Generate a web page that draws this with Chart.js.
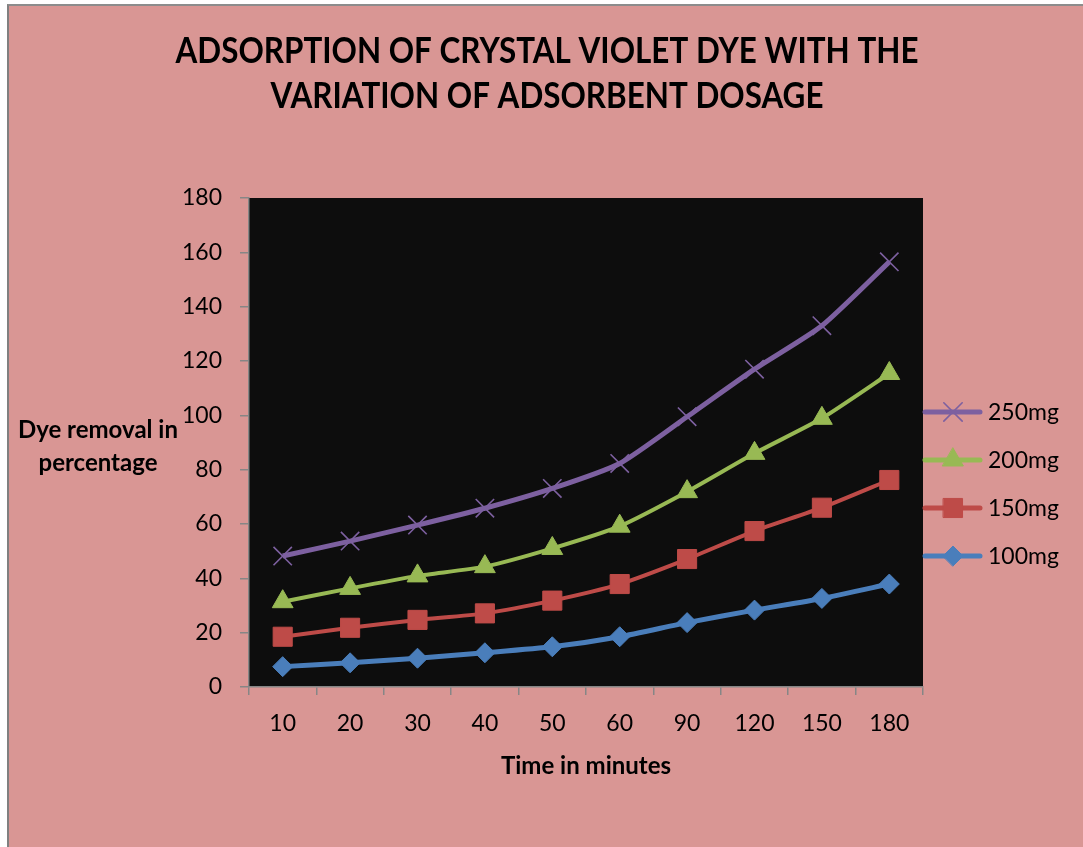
<!DOCTYPE html>
<html>
<head>
<meta charset="utf-8">
<script src="https://cdn.jsdelivr.net/npm/chart.js@4"></script>
<style>
  body { margin: 0; background: #ffffff; }
  #frame {
    position: absolute; left: 7px; top: 4px;
    width: 1076px; height: 843px;
    border-left: 2px solid #808080; border-top: 2px solid #8c8c8c;
    background: #D99694;
  }
  canvas { display: block; }
</style>
</head>
<body>
<div id="frame"><canvas id="chart" width="1074" height="841"></canvas></div>
<script>
// time in minutes (categories)
const times = ['10', '20', '30', '40', '50', '60', '90', '120', '150', '180'];

// dye removal in percentage, per dosage
const dose100 = [7.5, 8.9, 10.6, 12.6, 14.8, 18.5, 23.7, 28.3, 32.6, 37.9];
const dose150 = [18.5, 21.8, 24.7, 27.1, 31.8, 37.9, 47.1, 57.4, 66.0, 76.2];
const dose200 = [31.4, 36.3, 40.9, 44.3, 51.0, 59.2, 71.9, 86.0, 98.9, 115.4];
const dose250 = [48.2, 53.7, 59.6, 65.8, 73.1, 82.3, 99.5, 117.0, 133.0, 156.5];

const seriesNames = ['100mg', '150mg', '200mg', '250mg'];
const yTicks = [0, 20, 40, 60, 80, 100, 120, 140, 160, 180];

const titleLines = ['ADSORPTION OF CRYSTAL VIOLET DYE WITH THE', 'VARIATION OF ADSORBENT DOSAGE'];
const xTitle = 'Time in minutes';
const yTitleLines = ['Dye removal in', 'percentage'];

const plotBg = '#0D0D0D';
const axisGray = '#868686';
const textFont = 'Lato, sans-serif';

function series(label, data, color, style, radius, lineW) {
    return {
        label: label,
        data: data,
        borderColor: color,
        backgroundColor: color,
        pointBackgroundColor: color,
        pointBorderColor: color,
        pointStyle: style,
        pointRadius: radius,
        pointHoverRadius: radius,
        pointBorderWidth: style === 'crossRot' ? 1.6 : 1,
        borderWidth: lineW,
        tension: 0.2
    };
}

// black plot area
const plotAreaBg = {
    id: 'plotAreaBg',
    beforeDraw(chart) {
        const a = chart.chartArea;
        const ctx = chart.ctx;
        ctx.save();
        ctx.fillStyle = plotBg;
        ctx.fillRect(a.left, a.top, a.right - a.left, a.bottom - a.top);
        ctx.restore();
    }
};

// chart title, squeezed a bit to get the narrow Excel look
const narrowTitle = {
    id: 'narrowTitle',
    afterDraw(chart) {
        const ctx = chart.ctx;
        const a = chart.chartArea;
        ctx.save();
        ctx.fillStyle = '#000';
        ctx.font = 'bold 36px ' + textFont;
        ctx.textAlign = 'center';
        ctx.textBaseline = 'middle';
        const sx = 743 / ctx.measureText(titleLines[0]).width;
        titleLines.forEach((t, i) => {
            ctx.save();
            ctx.translate(chart.width / 2 + 1, a.top - 147 + i * 45);
            ctx.scale(sx, 1);
            ctx.fillText(t, 0, 0);
            ctx.restore();
        });
        ctx.restore();
    }
};

// horizontal y-axis title, like Excel's
const sideTitle = {
    id: 'sideTitle',
    afterDraw(chart) {
        const a = chart.chartArea;
        const ctx = chart.ctx;
        ctx.save();
        ctx.fillStyle = '#000';
        ctx.font = 'bold 24px ' + textFont;
        ctx.textAlign = 'center';
        ctx.textBaseline = 'middle';
        const y0 = a.top + (a.bottom - a.top) * 0.474;
        yTitleLines.forEach((t, i) => ctx.fillText(t, a.left - 151, y0 + i * 33));
        ctx.restore();
    }
};

// legend with line + marker, reversed order
const lineLegend = {
    id: 'lineLegend',
    afterDraw(chart) {
        const a = chart.chartArea;
        const ctx = chart.ctx;
        const sets = chart.data.datasets.slice().reverse();
        const x0 = a.right + 2;
        let y = a.top + (a.bottom - a.top) * 0.4376;
        ctx.save();
        sets.forEach(ds => {
            ctx.strokeStyle = ds.borderColor;
            ctx.fillStyle = ds.borderColor;
            ctx.lineWidth = 5;
            ctx.lineCap = 'round';
            ctx.beginPath();
            ctx.moveTo(x0, y);
            ctx.lineTo(x0 + 55, y);
            ctx.stroke();
            ctx.lineWidth = ds.pointBorderWidth;
            Chart.helpers.drawPoint(ctx, {
                pointStyle: ds.pointStyle,
                radius: ds.pointRadius,
                rotation: 0,
                borderWidth: ds.pointBorderWidth
            }, x0 + 28, y);
            ctx.fillStyle = '#000';
            ctx.font = '23px ' + textFont;
            ctx.textAlign = 'left';
            ctx.textBaseline = 'middle';
            ctx.fillText(ds.label, x0 + 63, y + 1);
            y += 48;
        });
        ctx.restore();
    }
};

const chart = new Chart(document.getElementById('chart'), {
    type: 'line',
    data: {
        labels: times,
        datasets: [
            series(seriesNames[0], dose100, '#4A7EBB', 'rectRot', 10, 5),
            series(seriesNames[1], dose150, '#BE4B48', 'rect', 13.5, 4),
            series(seriesNames[2], dose200, '#98B954', 'triangle', 12, 4),
            series(seriesNames[3], dose250, '#7D60A0', 'crossRot', 13, 5)
        ]
    },
    options: {
        responsive: false,
        animation: false,
        layout: { padding: { top: 192, right: 160, bottom: 66, left: 0 } },
        plugins: {
            legend: { display: false },
            tooltip: { enabled: false },
            title: { display: false }
        },
        scales: {
            x: {
                type: 'category',
                offset: true,
                grid: { offset: true, drawOnChartArea: false, drawTicks: true, tickLength: 8, color: axisGray, lineWidth: 1.5 },
                border: { color: axisGray, width: 1.5 },
                ticks: { color: '#000', padding: 15, font: { family: textFont, size: 23 } },
                title: {
                    display: true,
                    text: xTitle,
                    color: '#000',
                    padding: { top: 0, bottom: 0 },
                    font: { family: textFont, size: 24, weight: 'bold' }
                },
                afterFit(scale) { scale.height = 94; }
            },
            y: {
                min: 0,
                max: 180,
                afterBuildTicks(scale) { scale.ticks = yTicks.map(v => ({ value: v })); },
                grid: { drawOnChartArea: false, drawTicks: true, tickLength: 9, color: axisGray, lineWidth: 1.5 },
                border: { color: axisGray, width: 1.5 },
                ticks: { color: '#000', padding: 18, font: { family: textFont, size: 23 } },
                afterFit(scale) { scale.width = 240; }
            }
        }
    },
    plugins: [plotAreaBg, narrowTitle, sideTitle, lineLegend]
});
</script>
</body>
</html>
